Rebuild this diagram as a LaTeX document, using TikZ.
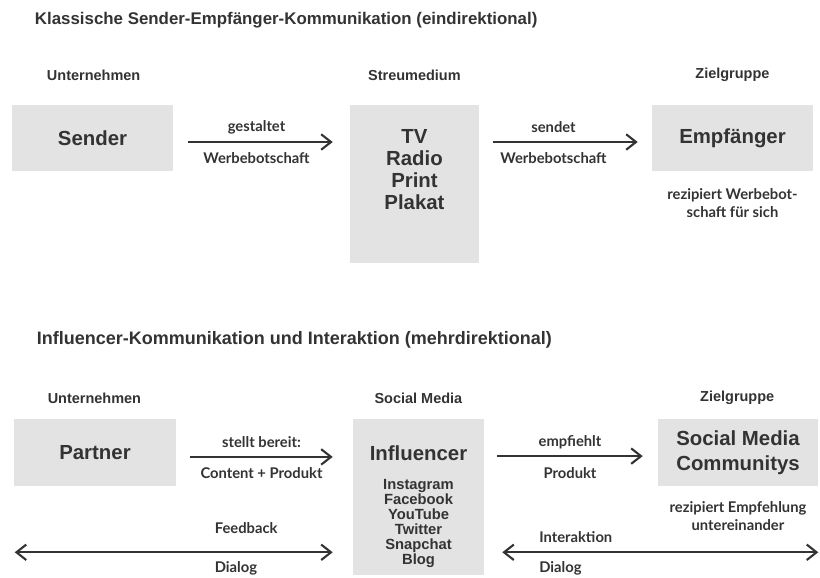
\documentclass[tikz,border=0pt]{standalone}
\usepackage{fontspec}
\setmainfont{Liberation Sans}
\newfontfamily\gillfont{Lato}[BoldFont={Lato Bold}]
\usepackage{tikz}
\usetikzlibrary{arrows.meta, positioning, calc}
\usepackage{xcolor}
\definecolor{boxgray}{HTML}{E3E3E3}
\definecolor{inkgray}{HTML}{333333}

\tikzset{
  box/.style={fill=boxgray, inner sep=0pt},
  boxtext/.style={font=\bfseries\fontsize{14.5}{15.5}\selectfont, text=inkgray, align=center},
  listtext/.style={font=\bfseries\fontsize{10.5}{10.6}\selectfont, text=inkgray, align=center},
  head/.style={font=\bfseries\fontsize{10.3}{12}\selectfont, text=inkgray},
  titletext/.style={font=\bfseries\fontsize{12}{14}\selectfont, text=inkgray, anchor=west},
  lbl/.style={font=\gillfont\bfseries\fontsize{10.5}{12.8}\selectfont, text=inkgray, inner sep=0pt, align=center},
  arr/.style={draw=inkgray, line width=1.5pt, -{Straight Barb[length=7pt, width=11pt]}},
  dblarr/.style={draw=inkgray, line width=1.5pt, {Straight Barb[length=7pt, width=11pt]}-{Straight Barb[length=7pt, width=11pt]}}
}

\begin{document}
\begin{tikzpicture}
    \useasboundingbox (0,0) rectangle (20.5,-14.425);
    % classic one-way model
    \node[titletext] (title1) at (0.75,-0.5) {Klassische Sender-Empf\"anger-Kommunikation (eindirektional)};
    \node[head, anchor=west] (h1a) at (1.05,-1.875) {Unternehmen};
    \node[head] (h1b) at (10.36,-1.875) {Streumedium};
    \node[head] (h1c) at (18.31,-1.875) {Zielgruppe};
    \node[box, minimum width=4.025cm, minimum height=1.65cm] (sender) at (2.3125,-3.45) {};
    \node[boxtext] at (sender) {Sender};
    \node[box, minimum width=3.225cm, minimum height=3.95cm] (medium) at (10.3625,-4.6) {};
    \node[boxtext, font=\bfseries\fontsize{14.5}{15.6}\selectfont] (mediatext) at ([yshift=-1.625cm]medium.north) {TV\\Radio\\Print\\Plakat};
    \node[box, minimum width=4.025cm, minimum height=1.65cm] (empf) at (18.3125,-3.45) {};
    \node[boxtext] at (empf) {Empf\"anger};
    \node[lbl] (empfnote) at ([yshift=-0.8cm]empf.south) {rezipiert Werbebot-\\schaft f\"ur sich};
    \draw[arr] ($(sender.east)+(0.375,-0.1)$) -- ($(sender.east -| medium.west)+(-0.425,-0.1)$)
        node[lbl, midway, xshift=-0.1cm, yshift=0.375cm] {gestaltet}
        node[lbl, midway, xshift=-0.1cm, yshift=-0.4cm] {Werbebotschaft};
    \draw[arr] ($(medium.east |- empf.west)+(0.35,-0.1)$) -- ($(empf.west)+(-0.35,-0.1)$)
        node[lbl, midway, xshift=-0.3cm, yshift=0.375cm] {sendet}
        node[lbl, midway, xshift=-0.3cm, yshift=-0.4cm] {Werbebotschaft};

    % influencer model
    \node[titletext, font=\bfseries\fontsize{12.8}{15}\selectfont] (title2) at (0.8,-8.5) {Influencer-Kommunikation und Interaktion (mehrdirektional)};
    \node[head, anchor=west] (h2a) at (1.07,-9.95) {Unternehmen};
    \node[head] (h2b) at (10.46,-9.95) {Social Media};
    \node[head] (h2c) at (18.43,-9.95) {Zielgruppe};
    \node[box, minimum width=4.05cm, minimum height=1.675cm] (partner) at (2.375,-11.3125) {};
    \node[boxtext] at (partner) {Partner};
    \node[box, minimum width=3.275cm, minimum height=3.9cm] (infl) at (10.4625,-12.425) {};
    \node[boxtext] (inflname) at ([yshift=-0.85cm]infl.north) {Influencer};
    \node[listtext] (platforms) at ([yshift=-2.62cm]infl.north) {Instagram\\Facebook\\YouTube\\Twitter\\Snapchat\\Blog};
    \node[box, minimum width=4.0cm, minimum height=1.675cm] (smc) at (18.45,-11.3125) {};
    \node[boxtext, font=\bfseries\fontsize{14.5}{17.5}\selectfont] at (smc) {Social Media\\Communitys};
    \node[lbl] (smcnote) at ([yshift=-0.75cm]smc.south) {rezipiert Empfehlung\\untereinander};
    \draw[arr] ($(partner.east)+(0.35,-0.11)$) -- ($(partner.east -| infl.west)+(-0.5,-0.11)$)
        node[lbl, midway, yshift=0.36cm] {stellt bereit:}
        node[lbl, midway, yshift=-0.4cm] {Content + Produkt};
    \draw[arr] ($(infl.east |- smc.west)+(0.325,-0.09)$) -- ($(smc.west)+(-0.375,-0.09)$)
        node[lbl, midway, yshift=0.34cm] {empfiehlt}
        node[lbl, midway, yshift=-0.43cm] {Produkt};
    \draw[dblarr] ($(partner.west |- infl.south)+(0.025,0.575)$) -- ($(infl.south west)+(-0.5,0.575)$)
        node[lbl, pos=0.626, anchor=west, yshift=0.6cm] {Feedback}
        node[lbl, pos=0.626, anchor=west, yshift=-0.4cm] {Dialog};
    \draw[dblarr] ($(infl.south east)+(0.45,0.575)$) -- ($(smc.east |- infl.south)+(0,0.575)$)
        node[lbl, pos=0.114, anchor=west, yshift=0.375cm] {Interaktion}
        node[lbl, pos=0.114, anchor=west, yshift=-0.4cm] {Dialog};
\end{tikzpicture}
\end{document}
